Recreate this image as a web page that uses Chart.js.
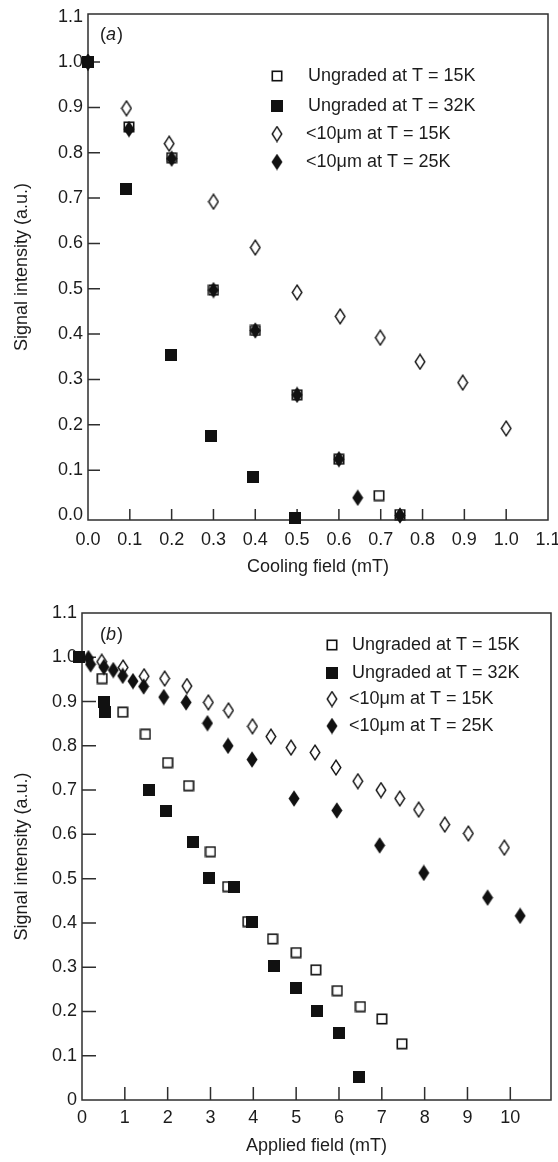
<!DOCTYPE html>
<html>
<head>
<meta charset="utf-8">
<script src="https://cdn.jsdelivr.net/npm/chart.js@4.4.0/dist/chart.umd.min.js"></script>
<style>
  body { margin: 0; background: #fff; }
  canvas { display: block; }
</style>
</head>
<body>
<canvas id="chartA" width="558" height="580"></canvas>
<canvas id="chartB" width="558" height="582"></canvas>
<script>
// legend labels (same for both panels)
const seriesLabels = ['Ungraded at T = 15K', 'Ungraded at T = 32K', '<10\u03bcm at T = 15K', '<10\u03bcm at T = 25K'];

// (a) cooling field
const coolX_ung15 = [0, 0.098, 0.2, 0.3, 0.4, 0.5, 0.6, 0.696, 0.746];
const coolY_ung15 = [1.0, 0.857, 0.789, 0.497, 0.408, 0.266, 0.124, 0.044, 0.002];
const coolX_ung32 = [0, 0.091, 0.199, 0.294, 0.395, 0.495];
const coolY_ung32 = [1.0, 0.721, 0.354, 0.175, 0.085, -0.006];
const coolX_fine15 = [0, 0.092, 0.194, 0.3, 0.4, 0.5, 0.603, 0.699, 0.794, 0.896, 1.0];
const coolY_fine15 = [1.0, 0.898, 0.82, 0.692, 0.591, 0.492, 0.439, 0.392, 0.339, 0.293, 0.192];
const coolX_fine25 = [0, 0.098, 0.2, 0.3, 0.4, 0.5, 0.6, 0.645, 0.746];
const coolY_fine25 = [1.0, 0.852, 0.787, 0.497, 0.408, 0.266, 0.124, 0.039, 0.0];
const coolTicksX = [0, 0.1, 0.2, 0.3, 0.4, 0.5, 0.6, 0.7, 0.8, 0.9, 1.0, 1.1];
const coolTicksY = [0, 0.1, 0.2, 0.3, 0.4, 0.5, 0.6, 0.7, 0.8, 0.9, 1.0, 1.1];

// (b) applied field
const applX_ung15 = [0.47, 0.95, 1.48, 2.0, 2.49, 3.0, 3.4, 3.87, 4.45, 5.0, 5.46, 5.96, 6.5, 7.0, 7.47];
const applY_ung15 = [0.952, 0.876, 0.826, 0.762, 0.71, 0.561, 0.482, 0.403, 0.364, 0.333, 0.294, 0.247, 0.211, 0.183, 0.127];
const applX_ung32 = [-0.08, 0.51, 0.54, 1.56, 1.95, 2.58, 2.96, 3.56, 3.98, 4.49, 5.0, 5.49, 6.0, 6.47];
const applY_ung32 = [1.0, 0.9, 0.876, 0.7, 0.652, 0.582, 0.502, 0.482, 0.403, 0.303, 0.253, 0.202, 0.152, 0.052];
const applX_fine15 = [0.46, 0.96, 1.45, 1.93, 2.45, 2.95, 3.42, 3.98, 4.41, 4.88, 5.44, 5.93, 6.44, 6.98, 7.42, 7.86, 8.47, 9.02, 9.86];
const applY_fine15 = [0.99, 0.977, 0.957, 0.952, 0.935, 0.898, 0.88, 0.844, 0.821, 0.796, 0.785, 0.751, 0.72, 0.70, 0.681, 0.656, 0.622, 0.602, 0.570];
const applX_fine25 = [0.15, 0.2, 0.51, 0.73, 0.95, 1.19, 1.44, 1.91, 2.43, 2.93, 3.41, 3.97, 4.95, 5.95, 6.95, 7.98, 9.47, 10.23];
const applY_fine25 = [0.998, 0.984, 0.978, 0.971, 0.958, 0.946, 0.934, 0.91, 0.898, 0.851, 0.80, 0.769, 0.681, 0.654, 0.575, 0.513, 0.457, 0.416];
const applTicksX = [0, 1, 2, 3, 4, 5, 6, 7, 8, 9, 10];
const applTicksY = [0, 0.1, 0.2, 0.3, 0.4, 0.5, 0.6, 0.7, 0.8, 0.9, 1.0, 1.1];

Chart.defaults.font.family = '"Liberation Sans", Arial, sans-serif';
Chart.defaults.font.size = 18;
Chart.defaults.color = '#1c1c1c';

// marker images
function marque(forme, plein) {
  const c = document.createElement('canvas');
  const g = c.getContext('2d');
  if (forme === 'carre') {
    c.width = 12; c.height = 12;
    if (plein) {
      g.fillStyle = '#111';
      g.fillRect(0, 0, 12, 12);
    } else {
      g.fillStyle = '#fff';
      g.fillRect(1, 1, 10, 10);
      g.strokeStyle = '#111';
      g.lineWidth = 1.6;
      g.strokeRect(1.3, 1.3, 9.4, 9.4);
    }
  } else {
    c.width = 12; c.height = 17;
    g.beginPath();
    if (plein) {
      g.moveTo(6, 0.3); g.lineTo(11.5, 8.5); g.lineTo(6, 16.7); g.lineTo(0.5, 8.5);
    } else {
      g.moveTo(6, 1.2); g.lineTo(10.8, 8.5); g.lineTo(6, 15.8); g.lineTo(1.2, 8.5);
    }
    g.closePath();
    if (plein) {
      g.fillStyle = '#111';
      g.fill();
    } else {
      g.fillStyle = '#fff';
      g.fill();
      g.strokeStyle = '#111';
      g.lineWidth = 1.4;
      g.stroke();
    }
  }
  return c;
}

const styles = [marque('carre', false), marque('carre', true), marque('losange', false), marque('losange', true)];
const ordres = [2, 1, 3, 0];

function points(xs, ys) {
  return xs.map((x, i) => ({ x: x, y: ys[i] }));
}

function jeux(series) {
  return series.map((s, i) => ({
    label: seriesLabels[i],
    data: points(s[0], s[1]),
    pointStyle: styles[i],
    pointRadius: 6,
    showLine: false,
    clip: false,
    order: ordres[i]
  }));
}

// box, inward ticks, legend, panel label
const cadre = {
  id: 'cadre',
  beforeDatasetsDraw(chart, args, opts) {
    const { ctx, chartArea: a, scales: { x, y } } = chart;
    ctx.save();
    ctx.strokeStyle = '#2e2e2e';
    ctx.lineWidth = 1.5;
    ctx.strokeRect(a.left, a.top, a.right - a.left, a.bottom - a.top);
    ctx.beginPath();
    opts.xMarks.forEach(v => {
      const px = x.getPixelForValue(v);
      ctx.moveTo(px, a.bottom);
      ctx.lineTo(px, a.bottom - opts.tickX);
    });
    opts.yMarks.forEach(v => {
      const py = y.getPixelForValue(v);
      ctx.moveTo(a.left, py);
      ctx.lineTo(a.left + opts.tickY, py);
    });
    ctx.stroke();
    ctx.restore();
  },
  afterDraw(chart, args, opts) {
    const ctx = chart.ctx;
    ctx.save();
    ctx.fillStyle = '#1c1c1c';
    ctx.textBaseline = 'middle';
    ctx.textAlign = 'left';
    chart.data.datasets.forEach((ds, i) => {
      const ry = opts.legY[i];
      const img = ds.pointStyle;
      ctx.drawImage(img, opts.legMarkX - img.width / 2, ry - img.height / 2);
      ctx.font = '18px "Liberation Sans", Arial, sans-serif';
      ctx.fillText(ds.label, opts.legTextX[i], ry);
    });
    // panel label like (a)
    let px = opts.panelX;
    ctx.font = '18px "Liberation Sans", Arial, sans-serif';
    ctx.fillText('(', px, opts.panelY);
    px += ctx.measureText('(').width;
    ctx.font = 'italic 18px "Liberation Sans", Arial, sans-serif';
    ctx.fillText(opts.panel, px, opts.panelY);
    px += ctx.measureText(opts.panel).width + 1;
    ctx.font = '18px "Liberation Sans", Arial, sans-serif';
    ctx.fillText(')', px, opts.panelY);
    ctx.restore();
  }
};

function fixPad(s) {
  s.paddingLeft = 0; s.paddingRight = 0; s.paddingTop = 0; s.paddingBottom = 0;
}

function creer(id, cfg) {
  const ctx = document.getElementById(id).getContext('2d');
  return new Chart(ctx, {
    type: 'scatter',
    data: { datasets: jeux(cfg.series) },
    plugins: [cadre],
    options: {
      responsive: false,
      animation: false,
      layout: { padding: cfg.pad },
      plugins: {
        legend: { display: false },
        tooltip: { enabled: false },
        cadre: cfg.cadre
      },
      scales: {
        x: {
          type: 'linear',
          min: cfg.xMin, max: cfg.xMax,
          afterBuildTicks: s => { s.ticks = cfg.ticksX.map(v => ({ value: v })); },
          afterFit: s => { s.height = cfg.xHeight; fixPad(s); },
          grid: { display: false, drawTicks: false },
          border: { display: false },
          ticks: { padding: cfg.xPad, autoSkip: false, maxRotation: 0, callback: cfg.fmtX },
          title: { display: true, text: cfg.xTitle, padding: { top: 0, bottom: cfg.xTitlePad } }
        },
        y: {
          type: 'linear',
          min: cfg.yMin, max: cfg.yMax,
          afterBuildTicks: s => { s.ticks = cfg.ticksY.map(v => ({ value: v })); },
          afterFit: s => { s.width = cfg.yWidth; fixPad(s); },
          grid: { display: false, drawTicks: false },
          border: { display: false },
          ticks: { padding: 5, autoSkip: false, callback: cfg.fmtY },
          title: { display: true, text: 'Signal intensity (a.u.)', padding: { top: 11, bottom: 0 } }
        }
      }
    }
  });
}

creer('chartA', {
  series: [[coolX_ung15, coolY_ung15], [coolX_ung32, coolY_ung32], [coolX_fine15, coolY_fine15], [coolX_fine25, coolY_fine25]],
  pad: { top: 14, right: 10, left: 0, bottom: 0 },
  xMin: 0, xMax: 1.1, yMin: -0.01, yMax: 1.106,
  ticksX: coolTicksX, ticksY: coolTicksY,
  fmtX: v => v.toFixed(1),
  fmtY: v => v.toFixed(1),
  xHeight: 60, yWidth: 88, xPad: 9, xTitlePad: 2,
  xTitle: 'Cooling field (mT)',
  cadre: {
    xMarks: coolTicksX.slice(1, -1), yMarks: coolTicksY.slice(1, -1),
    tickX: 11, tickY: 12,
    legMarkX: 277, legTextX: [308, 308, 306, 306], legY: [76, 106, 134, 162],
    panel: 'a', panelX: 100, panelY: 35
  }
});

creer('chartB', {
  series: [[applX_ung15, applY_ung15], [applX_ung32, applY_ung32], [applX_fine15, applY_fine15], [applX_fine25, applY_fine25]],
  pad: { top: 33, right: 5, left: 0, bottom: 0 },
  xMin: 0, xMax: 10.95, yMin: 0, yMax: 1.1,
  ticksX: applTicksX, ticksY: applTicksY,
  fmtX: v => String(v),
  fmtY: v => (v === 0 ? '0' : v.toFixed(1)),
  xHeight: 62, yWidth: 82, xPad: 7, xTitlePad: 5,
  xTitle: 'Applied field (mT)',
  cadre: {
    xMarks: applTicksX.slice(1), yMarks: applTicksY.slice(1, -1),
    tickX: 13, tickY: 14,
    legMarkX: 332, legTextX: [352, 352, 349, 349], legY: [65, 93, 119, 146],
    panel: 'b', panelX: 100, panelY: 55
  }
});
</script>
</body>
</html>
